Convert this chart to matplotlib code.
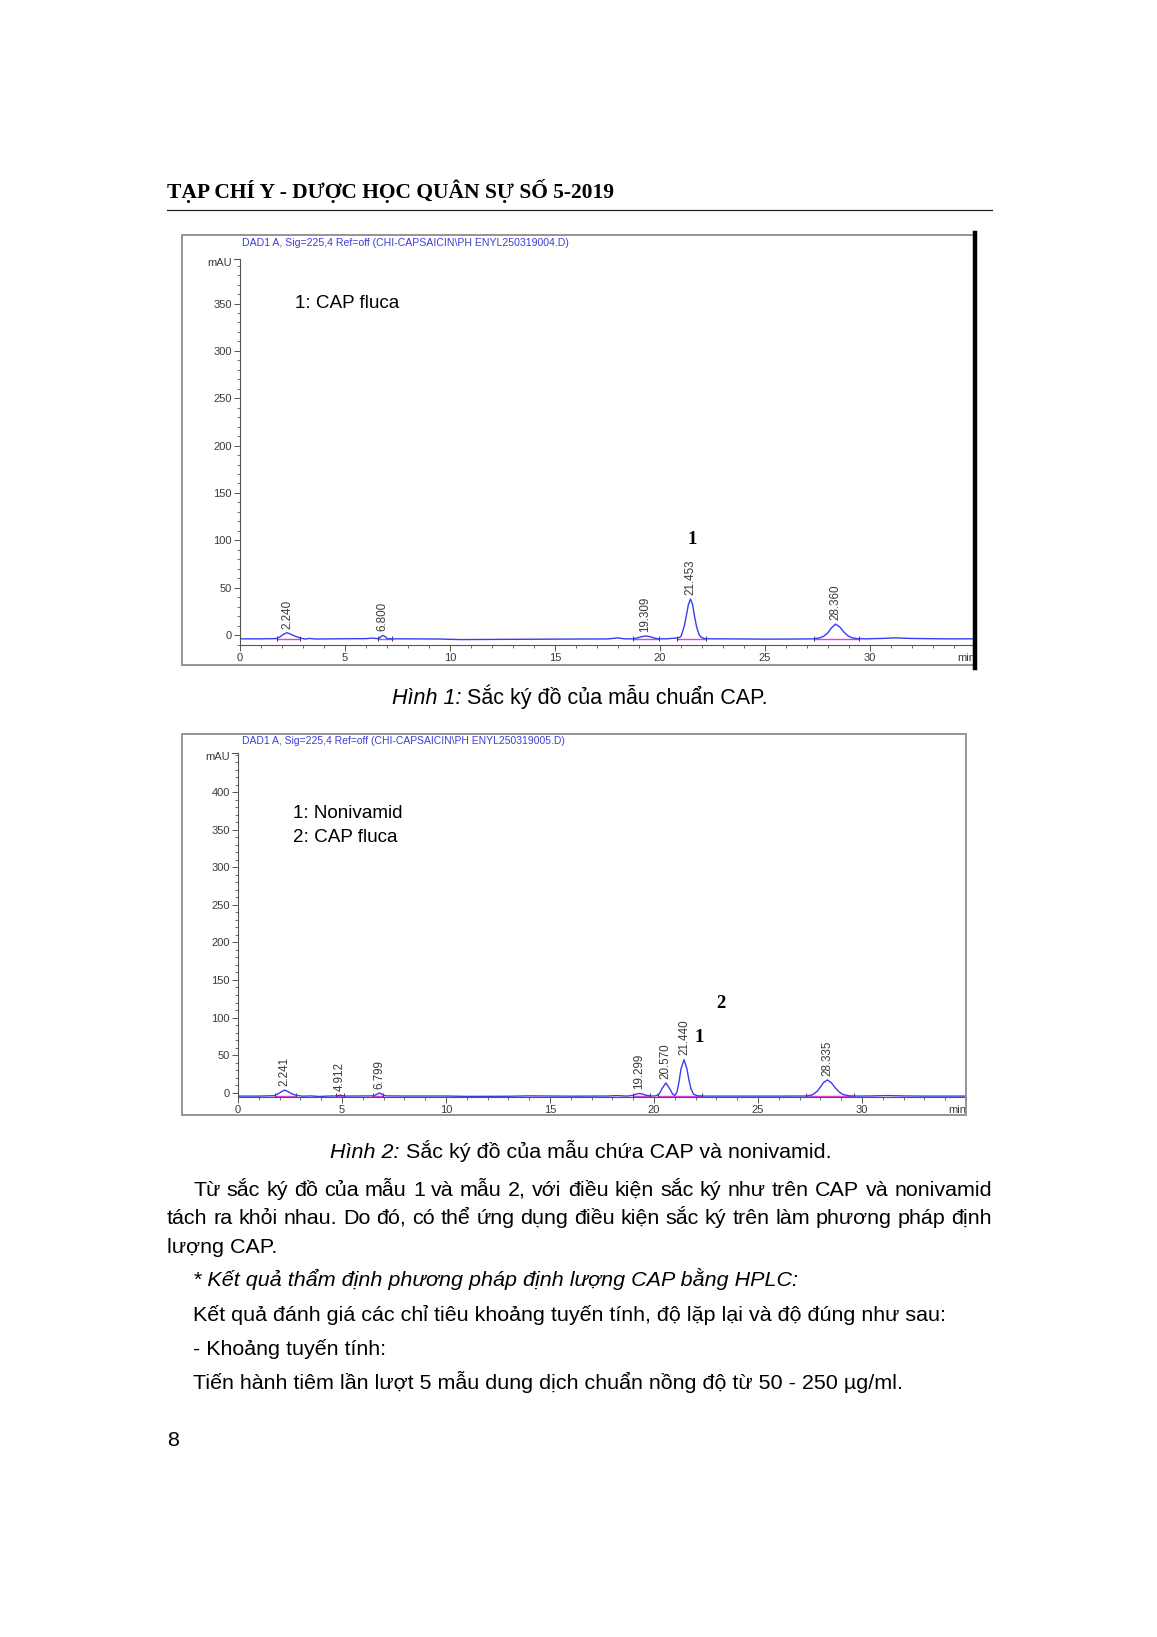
import matplotlib
matplotlib.use("Agg")
import matplotlib.pyplot as plt
from matplotlib.patches import Rectangle
from matplotlib.lines import Line2D
from matplotlib.ticker import MultipleLocator

W, H = 1157, 1637
SANS = ["Liberation Sans", "DejaVu Sans"]
SERIF = ["Liberation Serif", "DejaVu Serif"]

# ---- chromatogram 1 (CAP standard) ----
t1 = [0.0, 1.0, 1.7, 1.9, 2.05, 2.24, 2.4, 2.6, 2.85, 3.1, 3.3, 3.6, 4.5, 5.0,
      6.0, 6.3, 6.6, 6.7, 6.8, 6.9, 7.0, 7.2, 8.0, 9.5, 10.5, 12.0, 14.0, 16.0,
      17.5, 18.0, 18.3, 18.7, 18.9, 19.1, 19.309, 19.5, 19.7, 19.9, 20.3, 20.7,
      20.9, 21.0, 21.15, 21.25, 21.35, 21.453, 21.55, 21.65, 21.75, 21.85, 21.95,
      22.1, 22.4, 23.0, 25.0, 26.5, 27.3, 27.6, 27.8, 28.0, 28.16, 28.36, 28.56,
      28.76, 28.96, 29.16, 29.4, 29.8, 30.5, 31.2, 32.0, 33.5, 35.0]
s1 = [-4.0, -4.0, -3.8, -2.0, 0.5, 2.5, 1.0, -1.0, -3.0, -4.3, -3.6, -4.2, -4.0, -3.9,
      -3.8, -3.2, -3.9, -2.0, -0.3, -1.5, -3.6, -4.0, -4.0, -4.2, -4.8, -4.6, -4.4, -4.2,
      -4.1, -3.0, -4.0, -4.0, -3.2, -1.8, -1.0, -1.6, -3.0, -3.9, -4.0, -3.3,
      -2.8, -1.5, 9.0, 20.0, 32.0, 38.0, 32.5, 19.0, 8.0, 1.0, -2.2,
      -3.6, -4.0, -4.0, -4.3, -4.2, -4.0, -3.0, -1.2, 2.5, 7.5, 11.6, 8.5,
      3.0, -1.0, -3.0, -3.8, -4.0, -3.6, -3.0, -3.6, -4.0, -4.0]
rt1 = [2.240, 6.800, 19.309, 21.453, 28.360]
top1 = [2.5, -0.3, -1.0, 38.0, 11.6]
bl1_start = [1.75, 6.55, 18.7, 20.8, 27.35]
bl1_end = [2.85, 7.25, 19.95, 22.2, 29.5]

# ---- chromatogram 2 (CAP + nonivamid) ----
t2 = [0.0, 1.0, 1.75, 1.95, 2.1, 2.241, 2.4, 2.6, 2.8, 3.1, 3.5, 3.9, 4.3, 4.7,
      4.85, 4.912, 5.0, 5.2, 6.0, 6.5, 6.65, 6.799, 6.95, 7.1, 8.0, 10.0, 11.0,
      13.0, 14.0, 16.0, 17.8, 18.2, 18.7, 19.0, 19.15, 19.299, 19.45, 19.6, 19.9,
      20.1, 20.25, 20.4, 20.57, 20.74, 20.9, 21.0, 21.1, 21.2, 21.3, 21.44, 21.58,
      21.68, 21.78, 21.9, 22.1, 22.5, 24.0, 26.0, 27.3, 27.6, 27.85, 28.0, 28.15,
      28.335, 28.52, 28.7, 28.9, 29.1, 29.4, 29.8, 30.5, 31.2, 32.0, 33.0, 35.0]
s2 = [-4.5, -4.5, -4.0, -1.0, 1.5, 3.5, 1.5, -1.5, -3.5, -4.6, -4.3, -5.0, -4.5, -4.3,
      -3.5, -3.3, -3.8, -4.5, -4.3, -4.2, -2.5, -0.3, -2.5, -4.2, -4.4, -4.4, -4.9,
      -4.7, -4.2, -4.6, -4.4, -3.9, -4.5, -3.5, -1.8, -1.0, -1.8, -3.3, -4.4,
      -4.2, -1.5, 6.0, 13.0, 6.0, -2.0, -3.6, 0.5, 14.0, 32.0, 44.0, 32.0,
      17.0, 5.0, -2.0, -4.2, -4.5, -4.5, -4.5, -4.4, -3.0, 2.0, 7.5, 13.5,
      17.0, 13.5, 7.0, 1.0, -2.5, -4.2, -4.5, -4.3, -3.8, -4.3, -4.5, -4.5]
rt2 = [2.241, 4.912, 6.799, 19.299, 20.570, 21.440, 28.335]
top2 = [3.5, -3.3, -0.3, -1.0, 13.0, 44.0, 17.0]
bl2_start = [1.8, 4.7, 6.5, 19.0, 20.2, 27.3]
bl2_end = [2.8, 5.1, 6.95, 19.8, 22.3, 29.6]

title1 = "DAD1 A, Sig=225,4 Ref=off (CHI-CAPSAICIN\\PH ENYL250319004.D)"
title2 = "DAD1 A, Sig=225,4 Ref=off (CHI-CAPSAICIN\\PH ENYL250319005.D)"

body_lines = [
    "Từ sắc ký đồ của mẫu 1 và mẫu 2, với điều kiện sắc ký như trên CAP và nonivamid",
    "tách ra khỏi nhau. Do đó, có thể ứng dụng điều kiện sắc ký trên làm phương pháp định",
    "lượng CAP.",
    "* Kết quả thẩm định phương pháp định lượng CAP bằng HPLC:",
    "Kết quả đánh giá các chỉ tiêu khoảng tuyến tính, độ lặp lại và độ đúng như sau:",
    "- Khoảng tuyến tính:",
    "Tiến hành tiêm lần lượt 5 mẫu dung dịch chuẩn nồng độ từ 50 - 250 µg/ml.",
]

TICK_FS = 8
PEAK_FS = 8.4

fig = plt.figure(figsize=(W / 100, H / 100), dpi=100)
fig.patch.set_facecolor("white")
renderer = fig.canvas.get_renderer()


def fx(x):
    return x / W


def fy(y):
    return 1 - y / H


def runs_text(runs, x0, yc, size, x1=None, color="black"):
    # runs: list of (text, family, weight, style); drawn one after another
    arts = []
    for txt, fam, wt, st in runs:
        a = fig.text(0, 0, txt, family=fam, weight=wt, style=st, fontsize=size,
                     va="baseline", ha="left", color=color)
        arts.append(a)
    if x1 is not None:
        tot = sum(a.get_window_extent(renderer).width for a in arts)
        size = size * (x1 - x0) / tot
        for a in arts:
            a.set_fontsize(size)
    base = yc + 0.36 * size * 100 / 72
    x = x0
    for a in arts:
        a.set_position((fx(x), fy(base)))
        x += a.get_window_extent(renderer).width
    return size


def justify(line, x0, x1, yc, size):
    words = line.split(" ")
    arts = [fig.text(0, 0, w, family=SANS, fontsize=size, va="baseline") for w in words]
    widths = [a.get_window_extent(renderer).width for a in arts]
    gap = (x1 - x0 - sum(widths)) / (len(words) - 1)
    base = yc + 0.36 * size * 100 / 72
    x = x0
    for a, w in zip(arts, widths):
        a.set_position((fx(x), fy(base)))
        x += w + gap


def chromatogram(box, ax_px, xmax, ylim, t, s, rt, top, bls, ble, bl_level, title, tpos):
    bx0, by0, bx1, by1 = box
    fig.patches.append(Rectangle((fx(bx0), fy(by1)), (bx1 - bx0) / W, (by1 - by0) / H,
                                 transform=fig.transFigure, fill=False,
                                 edgecolor="#8c8c8c", lw=1.3))
    l, r, b, tp = ax_px
    ax = fig.add_axes([fx(l), fy(b), (r - l) / W, (b - tp) / H])
    ax.set_facecolor("none")
    ax.set_xlim(0, xmax)
    ax.set_ylim(*ylim)
    for sp in ["top", "right"]:
        ax.spines[sp].set_visible(False)
    for sp in ["left", "bottom"]:
        ax.spines[sp].set_color("#555555")
        ax.spines[sp].set_linewidth(0.8)
    ax.xaxis.set_minor_locator(MultipleLocator(1))
    ax.yaxis.set_minor_locator(MultipleLocator(10))
    ax.tick_params(which="major", length=4, width=0.7, color="#555555",
                   labelsize=TICK_FS, labelcolor="#3a3a3a", pad=2)
    ax.tick_params(which="minor", length=2.5, width=0.6, color="#555555")
    ax.set_xticks([v for v in range(0, 35, 5)])
    ax.set_yticks([v for v in range(0, int(ylim[1]) - 20, 50)])
    for lab in ax.get_xticklabels() + ax.get_yticklabels():
        lab.set_family(SANS)
    ax.annotate("min", (1, 0), xycoords="axes fraction", xytext=(0, -6),
                textcoords="offset points", ha="right", va="top",
                fontsize=TICK_FS, color="#3a3a3a", family=SANS)
    # top bracket of y axis with unit
    ax.add_line(Line2D([-0.008, 0], [1, 1], transform=ax.transAxes, color="#555555",
                       lw=0.8, clip_on=False))
    ax.annotate("mAU", (0, 1), xycoords="axes fraction", xytext=(-6, -3),
                textcoords="offset points", ha="right", va="center",
                fontsize=TICK_FS, color="#3a3a3a", family=SANS)
    # integration baselines and signal
    for a0, a1 in zip(bls, ble):
        ax.plot([a0, a1], [bl_level, bl_level], color="#e33de3", lw=1.0)
        ax.vlines([a0, a1], bl_level - 2.5, bl_level + 3.5, color="#222222", lw=0.6)
    ax.plot(t, s, color="#3b3bf2", lw=1.0)
    for x, y in zip(rt, top):
        ax.annotate(f"{x:.3f}", (x, y), xytext=(0, 3), textcoords="offset points",
                    rotation=90, ha="center", va="bottom", fontsize=PEAK_FS,
                    color="#3a3a3a", family=SANS)
    runs_text([(title, SANS, "normal", "normal")], tpos[0], tpos[1], 8, tpos[2],
              color="#3d3dd6")
    return ax


# header
runs_text([("TẠP CHÍ Y - DƯỢC HỌC QUÂN SỰ SỐ 5-2019", SERIF, "bold", "normal")],
          167, 190, 15, 614)
fig.add_artist(Line2D([fx(167), fx(992)], [fy(210), fy(210)], color="#222222", lw=0.9))

# figure 1
ax1 = chromatogram((182, 235, 976, 665), (240, 975, 645, 259), 35, (-10.5, 397),
                   t1, s1, rt1, top1, bl1_start, bl1_end, -4.0, title1, (242, 242, 570))
fig.add_artist(Line2D([fx(975), fx(975)], [fy(233), fy(668)], color="black", lw=3.2))
fig.text(fx(295), fy(304), "1: CAP fluca", fontsize=13.6, family=SANS, va="center")
fig.text(fx(692), fy(539), "1", fontsize=13.5, weight="bold", family=SERIF,
         ha="center", va="center")

# figure 2
ax2 = chromatogram((182, 734, 966, 1115), (238, 966, 1096.7, 753), 35, (-5.3, 452),
                   t2, s2, rt2, top2, bl2_start, bl2_end, -4.5, title2, (242, 740, 566))
fig.text(fx(293), fy(813), "1: Nonivamid", fontsize=13.6, family=SANS, va="center")
fig.text(fx(293), fy(838), "2: CAP fluca", fontsize=13.6, family=SANS, va="center")
fig.text(fx(699), fy(1038), "1", fontsize=13.5, weight="bold", family=SERIF,
         ha="center", va="center")
fig.text(fx(721), fy(1003), "2", fontsize=13.5, weight="bold", family=SERIF,
         ha="center", va="center")

# captions
runs_text([("Hình 1:", SANS, "normal", "italic"),
           (" Sắc ký đồ của mẫu chuẩn CAP.", SANS, "normal", "normal")],
          392, 696, 13, 767)
runs_text([("Hình 2:", SANS, "normal", "italic"),
           (" Sắc ký đồ của mẫu chứa CAP và nonivamid.", SANS, "normal", "normal")],
          330, 1150, 13, 829)

# body text
bs = runs_text([(body_lines[4], SANS, "normal", "normal")], 193, 1313, 13, 944)
justify(body_lines[0], 193, 992, 1188, bs)
justify(body_lines[1], 167, 992, 1216, bs)
runs_text([(body_lines[2], SANS, "normal", "normal")], 167, 1245, bs)
runs_text([(body_lines[3], SANS, "normal", "italic")], 193, 1278, bs)
runs_text([(body_lines[5], SANS, "normal", "normal")], 193, 1347, bs)
runs_text([(body_lines[6], SANS, "normal", "normal")], 193, 1381, bs)
runs_text([("8", SANS, "normal", "normal")], 167, 1438, bs)

fig.savefig("out.png", dpi=100, facecolor="white")
